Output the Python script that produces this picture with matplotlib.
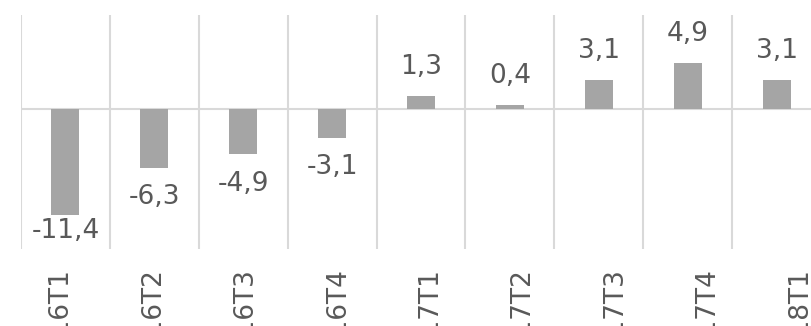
import numpy as np
import matplotlib.pyplot as plt
import matplotlib.transforms as mtransforms

# quarterly change, % (comma decimals)
quarters = ["2016T1", "2016T2", "2016T3", "2016T4",
            "2017T1", "2017T2", "2017T3", "2017T4", "2018T1"]
change = [-11.4, -6.3, -4.9, -3.1, 1.3, 0.4, 3.1, 4.9, 3.1]

BAR_COLOR = "#a5a5a5"
GRID_COLOR = "#d9d9d9"
TEXT_COLOR = "#595959"

plt.rcParams["font.family"] = ["DejaVu Sans"]

fig = plt.figure(figsize=(8.12, 3.26), dpi=100)
pos = [21 / 812, 77 / 326, 800 / 812, 234 / 326]
ax = fig.add_axes(pos)

x = np.arange(len(quarters))
ax.bar(x, change, width=0.315, color=BAR_COLOR, zorder=3)

ax.set_xlim(-0.5, len(quarters) - 0.5)
ax.set_ylim(-15, 10)

# vertical separators between categories + category axis at zero
ax.set_xticks(np.arange(-0.5, len(quarters), 1), minor=True)
ax.grid(which="minor", axis="x", color=GRID_COLOR, linewidth=1.5, zorder=0)
ax.axhline(0, color=GRID_COLOR, linewidth=1.5, zorder=2)
ax.set_yticks([])
ax.set_xticks([])
ax.tick_params(axis="x", which="both", length=0)
for s in ax.spines.values():
    s.set_visible(False)

# category labels sit on their own, slightly wider, axis
lab = fig.add_axes(pos, frameon=False)
lab.patch.set_visible(False)
lab.set_xlim(-0.4708, -0.4708 + 800 / 92.4)
lab.set_yticks([])
lab.set_xticks(x)
lab.set_xticklabels(quarters, rotation=90, va="top", ha="center",
                    fontsize=19, color=TEXT_COLOR)
lab.tick_params(axis="x", length=0, pad=14)
shift = mtransforms.ScaledTranslation(-4 / 100, 0, fig.dpi_scale_trans)
for lbl in lab.get_xticklabels():
    lbl.set_transform(lbl.get_transform() + shift)

# value labels outside the bar end, kept inside the plot area
for xi, v in zip(x, change):
    if v >= 0:
        y = v + 2.35
    else:
        y = max(v - 3.85, -13.8)
    ax.text(xi, y, f"{v:.1f}".replace(".", ","), ha="center", va="baseline",
            fontsize=19, color=TEXT_COLOR, zorder=4)

fig.savefig("out.png", dpi=100)
